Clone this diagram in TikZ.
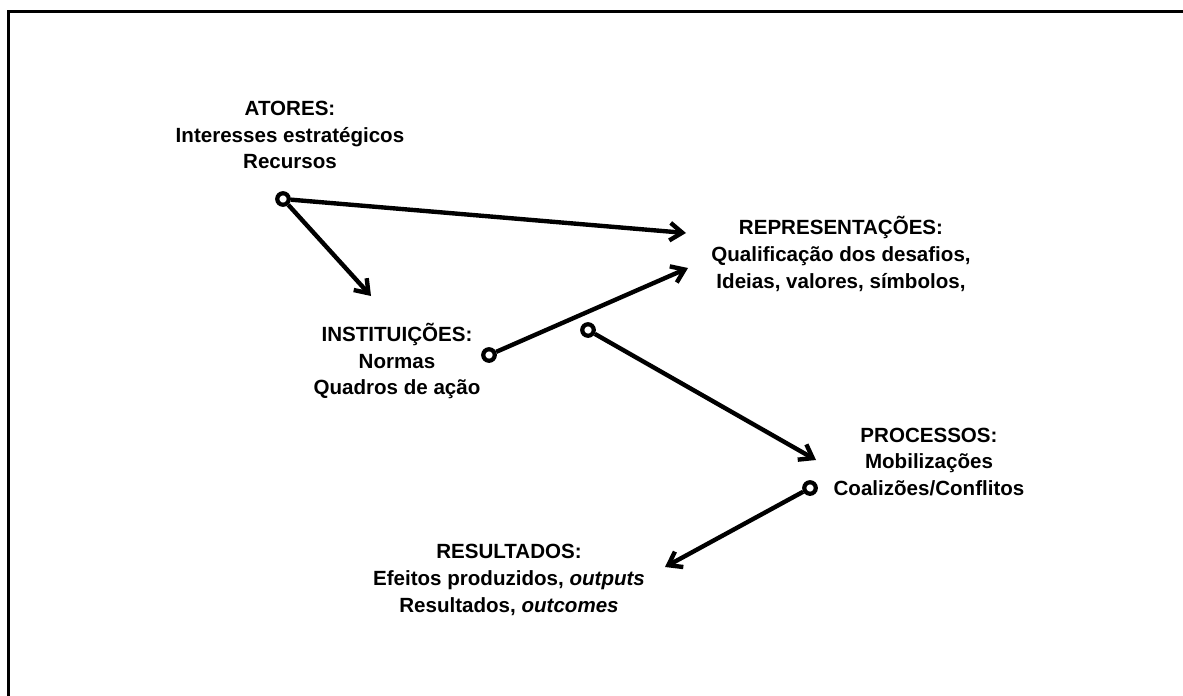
\documentclass[tikz,border=0pt]{standalone}
\usepackage{fontspec}
\setmainfont{Liberation Sans}
\usetikzlibrary{arrows.meta}

\begin{document}
\begin{tikzpicture}[x=0.02cm,y=-0.02cm,
		block/.style={align=center, inner sep=0pt, font=\fontsize{11.7}{15.3}\selectfont\bfseries},
		dot/.style={circle, draw=black, line width=2.4pt, inner sep=0mm, minimum size=0.23cm},
		link/.style={line width=2.5pt, -{Straight Barb[length=7pt, width=10pt]}}]

	\useasboundingbox (0,0) rectangle (1183,696);
	\draw[line width=2pt] (8.5,710) -- (8.5,11.5) -- (1195,11.5); %frame runs off the page

	\node[block] (atores) at (290,135) {ATORES:\\Interesses estratégicos\\Recursos};
	\node[block] (instituicoes) at (397,361) {INSTITUIÇÕES:\\Normas\\Quadros de ação};
	\node[block] (representacoes) at (841,254) {REPRESENTAÇÕES:\\Qualificação dos desafios,\\Ideias, valores, símbolos,};
	\node[block] (processos) at (929,462) {PROCESSOS:\\Mobilizações\\Coalizões/Conflitos};
	\node[block] (resultados) at (509,580) {RESULTADOS:\\Efeitos produzidos, \textit{outputs}\\Resultados, \textit{outcomes}};

	\node[dot] (atores-dot) at (283,199) {};
	\node[dot] (instituicoes-dot) at (489,355) {};
	\node[dot] (representacoes-dot) at (588,330) {};
	\node[dot] (processos-dot) at (810,488) {};

	\coordinate (to-repr-a) at (686,233);
	\coordinate (to-inst) at (371,296);
	\coordinate (to-repr-b) at (688,268);
	\coordinate (to-proc) at (816,460);
	\coordinate (to-res) at (665,567);

	\draw[link] (atores-dot) -- (to-repr-a);
	\draw[link] (atores-dot) -- (to-inst);
	\draw[link] (instituicoes-dot) -- (to-repr-b);
	\draw[link] (representacoes-dot) -- (to-proc);
	\draw[link] (processos-dot) -- (to-res);
\end{tikzpicture}
\end{document}
